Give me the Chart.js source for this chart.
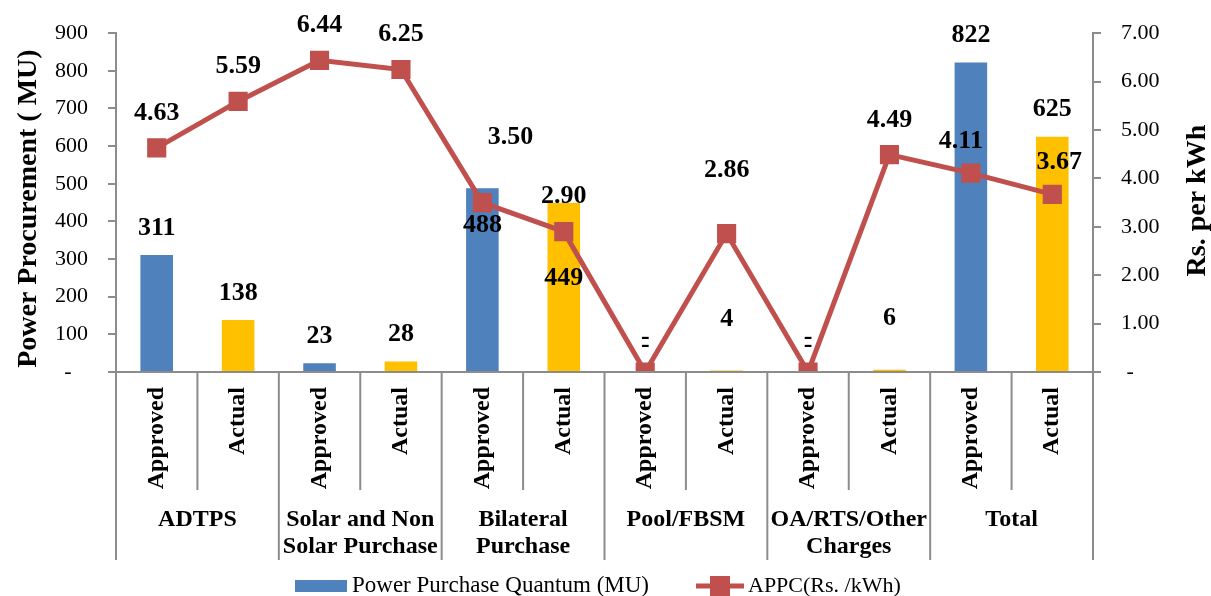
<!DOCTYPE html>
<html>
<head>
<meta charset="utf-8">
<script src="https://cdn.jsdelivr.net/npm/chart.js@4"></script>
<style>
  body { margin: 0; background: #fff; }
</style>
</head>
<body>
<canvas id="grafico" width="1211" height="596"></canvas>
<script>
// dados
const grupos = [["ADTPS"], ["Solar and Non", "Solar Purchase"], ["Bilateral", "Purchase"], ["Pool/FBSM"], ["OA/RTS/Other", "Charges"], ["Total"]];
const tipos = ["Approved", "Actual"];
const quantum = [311, 138, 23, 28, 488, 449, 0, 4, 0, 6, 822, 625]; // MU
const appc = [4.63, 5.59, 6.44, 6.25, 3.50, 2.90, 0, 2.86, 0, 4.49, 4.11, 3.67]; // Rs./kWh

const azul = '#4F81BD';
const amarelo = '#FFC000';
const vermelho = '#C0504D';
const cinza = '#8C8C8C';
const fonte = '"Liberation Serif", "Times New Roman", serif';

let rotulos = [];
grupos.forEach(g => tipos.forEach(t => rotulos.push(t)));

// ajustes manuais das etiquetas (como no excel)
const ajusteBarra = { 4: [0, 64], 5: [0, 102], 7: [0, -24], 9: [0, -24] };
const ajusteLinha = { 4: [28, -30], 7: [0, -28], 9: [0, 1], 10: [-10, 3], 11: [7, 3] };

const desenhos = {
  id: 'desenhos',
  afterDraw(chart) {
    const c = chart.ctx;
    const x = chart.scales.x;
    const area = chart.chartArea;
    const base = area.bottom;
    const passo = x.getPixelForValue(1) - x.getPixelForValue(0);

    c.save();
    // eixo x e divisorias
    c.strokeStyle = cinza;
    c.lineWidth = 2;
    c.beginPath();
    c.moveTo(area.left - 8, base);
    c.lineTo(area.right + 8, base);
    for (let i = 0; i <= rotulos.length; i++) {
      let px = x.getPixelForValue(i) - passo / 2;
      c.moveTo(px, base);
      c.lineTo(px, i % 2 === 0 ? 560 : 490);
    }
    c.stroke();

    // Approved / Actual
    c.fillStyle = '#000';
    c.font = 'bold 24px ' + fonte;
    c.textAlign = 'right';
    c.textBaseline = 'middle';
    rotulos.forEach((r, i) => {
      c.save();
      c.translate(x.getPixelForValue(i), 387);
      c.rotate(-Math.PI / 2);
      c.fillText(r, 0, 0);
      c.restore();
    });

    // nomes dos grupos
    c.textAlign = 'center';
    grupos.forEach((g, k) => {
      let px = x.getPixelForValue(2 * k) + passo / 2;
      g.forEach((linha, j) => c.fillText(linha, px, 520 + j * 27));
    });

    // etiquetas das barras
    c.font = 'bold 26px ' + fonte;
    const barras = chart.getDatasetMeta(0).data;
    barras.forEach((b, i) => {
      let aj = ajusteBarra[i] || [0, 0];
      let txt = quantum[i] === 0 ? '-' : String(quantum[i]);
      c.fillText(txt, b.x + aj[0], b.y - 27 + aj[1]);
    });
    // etiquetas da linha
    const pontos = chart.getDatasetMeta(1).data;
    pontos.forEach((p, i) => {
      let aj = ajusteLinha[i] || [0, 0];
      let txt = appc[i] === 0 ? '-' : appc[i].toFixed(2);
      c.fillText(txt, p.x + aj[0], p.y - 35 + aj[1]);
    });

    // titulos dos eixos
    c.font = 'bold 28px ' + fonte;
    c.save();
    c.translate(29, (area.top + area.bottom) / 2 + 6);
    c.rotate(-Math.PI / 2);
    c.fillText('Power Procurement ( MU)', 0, 0);
    c.restore();
    c.save();
    c.translate(1198, (area.top + area.bottom) / 2 - 2);
    c.rotate(-Math.PI / 2);
    c.fillText('Rs. per kWh', 0, 0);
    c.restore();

    // legenda
    c.fillStyle = azul;
    c.fillRect(295, 580, 52, 12);
    c.fillStyle = '#000';
    c.font = '23px ' + fonte;
    c.textAlign = 'left';
    c.fillText('Power Purchase Quantum (MU)', 352, 586);
    c.strokeStyle = vermelho;
    c.lineWidth = 5;
    c.beginPath();
    c.moveTo(696, 586);
    c.lineTo(744, 586);
    c.stroke();
    c.fillStyle = vermelho;
    c.fillRect(710, 576, 20, 20);
    c.fillStyle = '#000';
    c.font = '22px ' + fonte;
    c.fillText('APPC(Rs. /kWh)', 748, 586);
    c.restore();
  }
};

const ctx = document.getElementById('grafico').getContext('2d');
const grafico = new Chart(ctx, {
  type: 'bar',
  data: {
    labels: rotulos,
    datasets: [{
      label: 'Power Purchase Quantum (MU)',
      data: quantum,
      backgroundColor: quantum.map((v, i) => i % 2 === 0 ? azul : amarelo),
      yAxisID: 'y',
      barPercentage: 0.4,
      categoryPercentage: 1,
      order: 1
    }, {
      type: 'line',
      label: 'APPC(Rs. /kWh)',
      data: appc,
      borderColor: vermelho,
      backgroundColor: vermelho,
      borderWidth: 5,
      pointStyle: 'rect',
      pointRadius: 10,
      pointHoverRadius: 10,
      tension: 0,
      yAxisID: 'y1',
      order: 0
    }]
  },
  options: {
    responsive: false,
    animation: false,
    layout: { padding: { top: 32, bottom: 224, left: 0, right: 0 } },
    plugins: { legend: { display: false }, tooltip: { enabled: false } },
    scales: {
      x: { display: false },
      y: {
        position: 'left',
        min: 0, max: 900,
        afterFit: s => { s.width = 116; },
        ticks: {
          stepSize: 100, padding: 20, color: '#000',
          font: { family: fonte, size: 22 },
          callback: v => v === 0 ? '-   ' : v
        },
        grid: { drawOnChartArea: false, tickLength: 8, color: cinza, lineWidth: 2 },
        border: { color: cinza, width: 2 }
      },
      y1: {
        position: 'right',
        min: 0, max: 7,
        afterFit: s => { s.width = 118; },
        ticks: {
          stepSize: 1, padding: 20, color: '#000',
          font: { family: fonte, size: 22 },
          callback: v => v === 0 ? ' -' : v.toFixed(2)
        },
        grid: { drawOnChartArea: false, tickLength: 8, color: cinza, lineWidth: 2 },
        border: { color: cinza, width: 2 }
      }
    }
  },
  plugins: [desenhos]
});
</script>
</body>
</html>
